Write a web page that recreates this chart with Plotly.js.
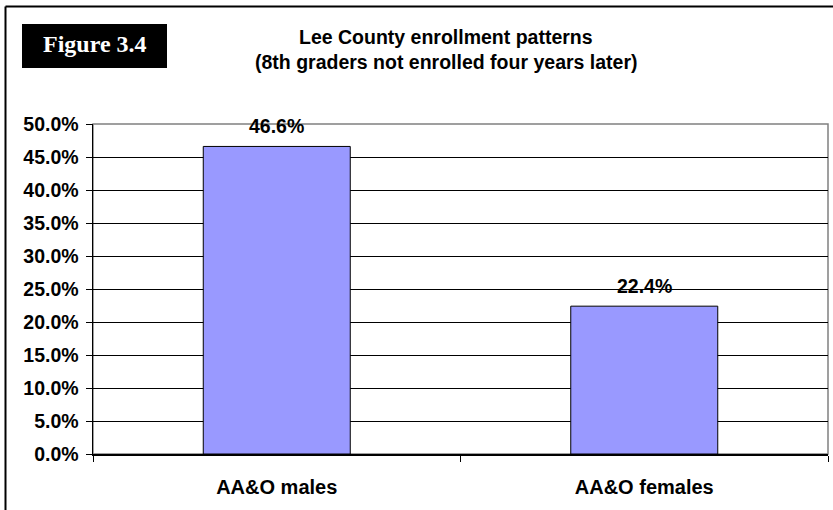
<!DOCTYPE html>
<html>
<head>
<meta charset="utf-8">
<script src="https://cdn.plot.ly/plotly-3.0.1.min.js"></script>
<style>
html,body{margin:0;padding:0;background:#fff;}
#chart{width:833px;height:510px;}
</style>
</head>
<body>
<div id="chart"></div>
<script>
const categories = ["AA&O males", "AA&O females"];
const values = [0.466, 0.224];
const valueLabels = ["46.6%", "22.4%"];
const titleLines = ["Lee County enrollment patterns", "(8th graders not enrolled four years later)"];
const figureLabel = "Figure 3.4";

const W = 833, H = 510;
const L = 93, R = 5, T = 124, B = 56;
const pw = W - L - R, ph = H - T - B;
const px = x => (x - L) / pw;
const py = y => (H - B - y) / ph;

const FAM = "Liberation Sans, Arial, sans-serif";
const font = {family: FAM, size: 19.5, color: "#000"};

const trace = {
  type: "bar",
  x: categories,
  y: values,
  width: 0.4,
  marker: {color: "#9999FF", line: {color: "#000", width: 1}},
  hoverinfo: "skip"
};

const annotations = [];
categories.forEach((c, i) => {
  annotations.push({
    x: c, y: values[i], xref: "x", yref: "y",
    text: "<b>" + valueLabels[i] + "</b>",
    showarrow: false, yanchor: "bottom", yshift: 7,
    font: font
  });
});
annotations.push({
  xref: "paper", yref: "paper", x: px(446), y: py(37),
  text: "<b>" + titleLines[0] + "</b>", showarrow: false,
  xanchor: "center", yanchor: "middle", font: {family: FAM, size: 19.5, color: "#000"}
});
annotations.push({
  xref: "paper", yref: "paper", x: px(446), y: py(62),
  text: "<b>" + titleLines[1] + "</b>", showarrow: false,
  xanchor: "center", yanchor: "middle", font: {family: FAM, size: 19.5, color: "#000"}
});
annotations.push({
  xref: "paper", yref: "paper", x: px(94.5), y: py(44),
  text: "<b>" + figureLabel + "</b>", showarrow: false,
  xanchor: "center", yanchor: "middle",
  font: {family: "Liberation Serif, Times New Roman, serif", size: 24, color: "#fff"}
});

const shapes = [
  {type: "rect", xref: "paper", yref: "paper", x0: 0, x1: 1, y0: 0, y1: 1,
   line: {color: "#808080", width: 1.5}, layer: "below"},
  {type: "rect", xref: "paper", yref: "paper", x0: px(22), x1: px(167), y0: py(24), y1: py(68),
   fillcolor: "#000", line: {width: 0}, layer: "below"},
  {type: "line", xref: "paper", yref: "paper", x0: px(5.5), x1: px(5.5), y0: py(6.5), y1: py(520),
   line: {color: "#000", width: 2}},
  {type: "line", xref: "paper", yref: "paper", x0: px(5.5), x1: px(840), y0: py(6.5), y1: py(6.5),
   line: {color: "#000", width: 2}}
];

const layout = {
  width: W, height: H,
  margin: {l: L, r: R, t: T, b: B, pad: 0},
  paper_bgcolor: "#fff", plot_bgcolor: "#fff",
  showlegend: false,
  font: font,
  xaxis: {
    type: "category",
    tickson: "boundaries",
    ticks: "outside", ticklen: 6, tickcolor: "#000", tickwidth: 1,
    ticklabelstandoff: 14,
    showline: true, linecolor: "#000", linewidth: 1.5,
    showgrid: false,
    tickfont: {family: FAM, size: 20, color: "#000", weight: "bold"},
    fixedrange: true
  },
  yaxis: {
    range: [0, 0.5],
    dtick: 0.05,
    tickformat: ".1%",
    ticks: "outside", ticklen: 6, tickcolor: "#000", tickwidth: 1,
    ticklabelstandoff: 3,
    showline: true, linecolor: "#000", linewidth: 1.5,
    showgrid: true, gridcolor: "#000", gridwidth: 1,
    zeroline: false,
    tickfont: {family: FAM, size: 19.5, color: "#000", weight: "bold"},
    fixedrange: true
  },
  annotations: annotations,
  shapes: shapes
};

Plotly.newPlot("chart", [trace], layout, {displayModeBar: false, staticPlot: true});
</script>
</body>
</html>
